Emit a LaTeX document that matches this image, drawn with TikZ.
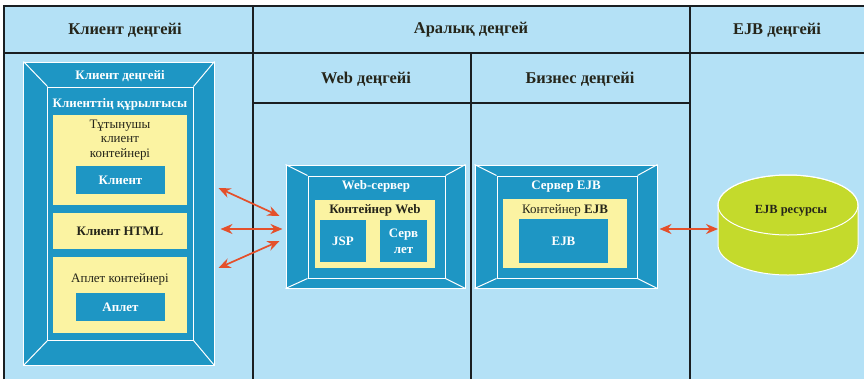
\documentclass[tikz,border=0pt]{standalone}
\usepackage{fontspec}
\setmainfont{Liberation Serif}
\usetikzlibrary{arrows.meta}
\definecolor{bgc}{HTML}{B4E1F6}
\definecolor{bluec}{HTML}{1E96C4}
\definecolor{yelc}{HTML}{FBF3A2}
\definecolor{grnc}{HTML}{C4DA2C}
\definecolor{redc}{HTML}{E4502B}
\definecolor{darkc}{HTML}{25251A}
\definecolor{linec}{HTML}{1A1F22}
\newcommand\bevl[2]{\foreach \cc in {north west,north east,south west,south east}{\draw[bevel] (#1.\cc) -- (#2.\cc);}}
\begin{document}
\begin{tikzpicture}[x=1bp,y=-1bp,
  frm/.style={draw=white, line width=1bp, fill=bluec, inner sep=0},
  bevel/.style={draw=white, line width=1bp},
  yel/.style={fill=yelc, draw=none, inner sep=0},
  bbox/.style={fill=bluec, draw=none, inner sep=0},
  grid/.style={draw=linec, line width=1.3bp},
  hdr/.style={text=darkc, font=\bfseries\fontsize{16.5}{19}\selectfont, inner sep=0},
  wlab/.style={text=white, font=\bfseries\fontsize{13}{15}\selectfont, inner sep=0, align=center},
  dlab/.style={text=darkc, font=\fontsize{13}{14.8}\selectfont, inner sep=0, align=center},
  dblab/.style={text=darkc, font=\bfseries\fontsize{13}{15}\selectfont, inner sep=0, align=center},
  arr/.style={draw=redc, line width=1.7bp, {Stealth[length=12bp,width=10bp]}-{Stealth[length=12bp,width=10bp]}}
]
\useasboundingbox (0,0) rectangle (864,379);
\fill[white] (0,0) rectangle (864,379);
\fill[bgc] (4,6) rectangle (864,379);
% grid
\draw[grid] (4,379) -- (4,6) -- (864,6);
\draw[grid] (4,53) -- (864,53);
\draw[grid] (253,6) -- (253,379);
\draw[grid] (690,6) -- (690,379);
\draw[grid] (253,103) -- (690,103);
\draw[grid] (471,53) -- (471,379);
% headers
\node[hdr] (h1) at (125,30) {Клиент деңгейі};
\node[hdr] (h2) at (471,30) {Аралық деңгей};
\node[hdr] (h3) at (777,30) {EJB деңгейі};
\node[hdr] (h4) at (366,79) {Web деңгейі};
\node[hdr] (h5) at (580,79) {Бизнес деңгейі};
% client
\node[frm, minimum width=190bp, minimum height=303bp] (cliout) at (119,213.5) {};
\node[frm, minimum width=145bp, minimum height=253bp] (cliin) at (120.5,213.5) {};
\bevl{cliout}{cliin}
\node[wlab] (cl1) at (120,76) {Клиент деңгейі};
\node[wlab] (cl2) at (120,104) {Клиенттің құрылғысы};
\node[yel, minimum width=134bp, minimum height=90bp] (y1) at (120,160) {};
\node[dlab] (y1t) at (120,140) {Тұтынушы\\клиент\\контейнері};
\node[bbox, minimum width=89bp, minimum height=28bp] (kl) at (120.5,180) {};
\node[wlab] (klt) at (120.5,180) {Клиент};
\node[yel, minimum width=134bp, minimum height=36bp] (y2) at (120,231) {};
\node[dblab] (y2t) at (120,231) {Клиент HTML};
\node[yel, minimum width=134bp, minimum height=76bp] (y3) at (120,295) {};
\node[dlab] (y3t) at (120,279) {Аплет контейнері};
\node[bbox, minimum width=89bp, minimum height=28bp] (ap) at (120.5,307) {};
\node[wlab] (apt) at (120.5,307) {Аплет};
% web server
\node[frm, minimum width=179bp, minimum height=123bp] (webout) at (375.5,226.5) {};
\node[frm, minimum width=137bp, minimum height=102bp] (webin) at (376.5,227) {};
\bevl{webout}{webin}
\node[wlab] (wt) at (376,186) {Web-сервер};
\node[yel, minimum width=120bp, minimum height=68bp] (wy) at (375,234) {};
\node[dblab] (wyt) at (375,210) {Контейнер Web};
\node[bbox, minimum width=46bp, minimum height=42bp] (jsp) at (343,241) {};
\node[wlab] (jspt) at (343,241) {JSP};
\node[bbox, minimum width=47bp, minimum height=42bp] (srv) at (403.5,241) {};
\node[wlab, font=\bfseries\fontsize{13}{16}\selectfont] (srvt) at (403.5,241) {Серв\\лет};
% ejb server
\node[frm, minimum width=182bp, minimum height=123bp] (ejbout) at (566,226.5) {};
\node[frm, minimum width=140bp, minimum height=102bp] (ejbin) at (567,227) {};
\bevl{ejbout}{ejbin}
\node[wlab] (et) at (566,187) {Сервер EJB};
\node[yel, minimum width=124bp, minimum height=69bp] (ey) at (565,233.5) {};
\node[dlab] (eyt) at (565,210) {Контейнер \textbf{EJB}};
\node[bbox, minimum width=89bp, minimum height=44bp] (ejb) at (563.5,241) {};
\node[wlab] (ejbt) at (563.5,241) {EJB};
% resource cylinder
\filldraw[fill=grnc, draw=white, line width=1bp] (718,205) -- (718,245)
  arc[start angle=180, end angle=360, x radius=70bp, y radius=30bp] -- (858,205)
  arc[start angle=0, end angle=180, x radius=70bp, y radius=30bp] -- cycle;
\draw[white, line width=1bp] (788,205) ellipse [x radius=70bp, y radius=30bp];
\node[dblab, font=\bfseries\fontsize{12.5}{14}\selectfont] (rest) at (791,211) {EJB ресурсы};
\coordinate (res) at (718,229);
% arrows
\draw[arr] ([shift={(4,-25.5)}]cliout.east) -- ([shift={(-6,-10.5)}]webout.west);
\draw[arr] ([shift={(6,15.5)}]cliout.east) -- ([shift={(-3,2.5)}]webout.west);
\draw[arr] ([shift={(4,54.5)}]cliout.east) -- ([shift={(-6,14.5)}]webout.west);
\draw[arr] ([shift={(2,2.5)}]ejbout.east) -- (res);
\end{tikzpicture}
\end{document}
